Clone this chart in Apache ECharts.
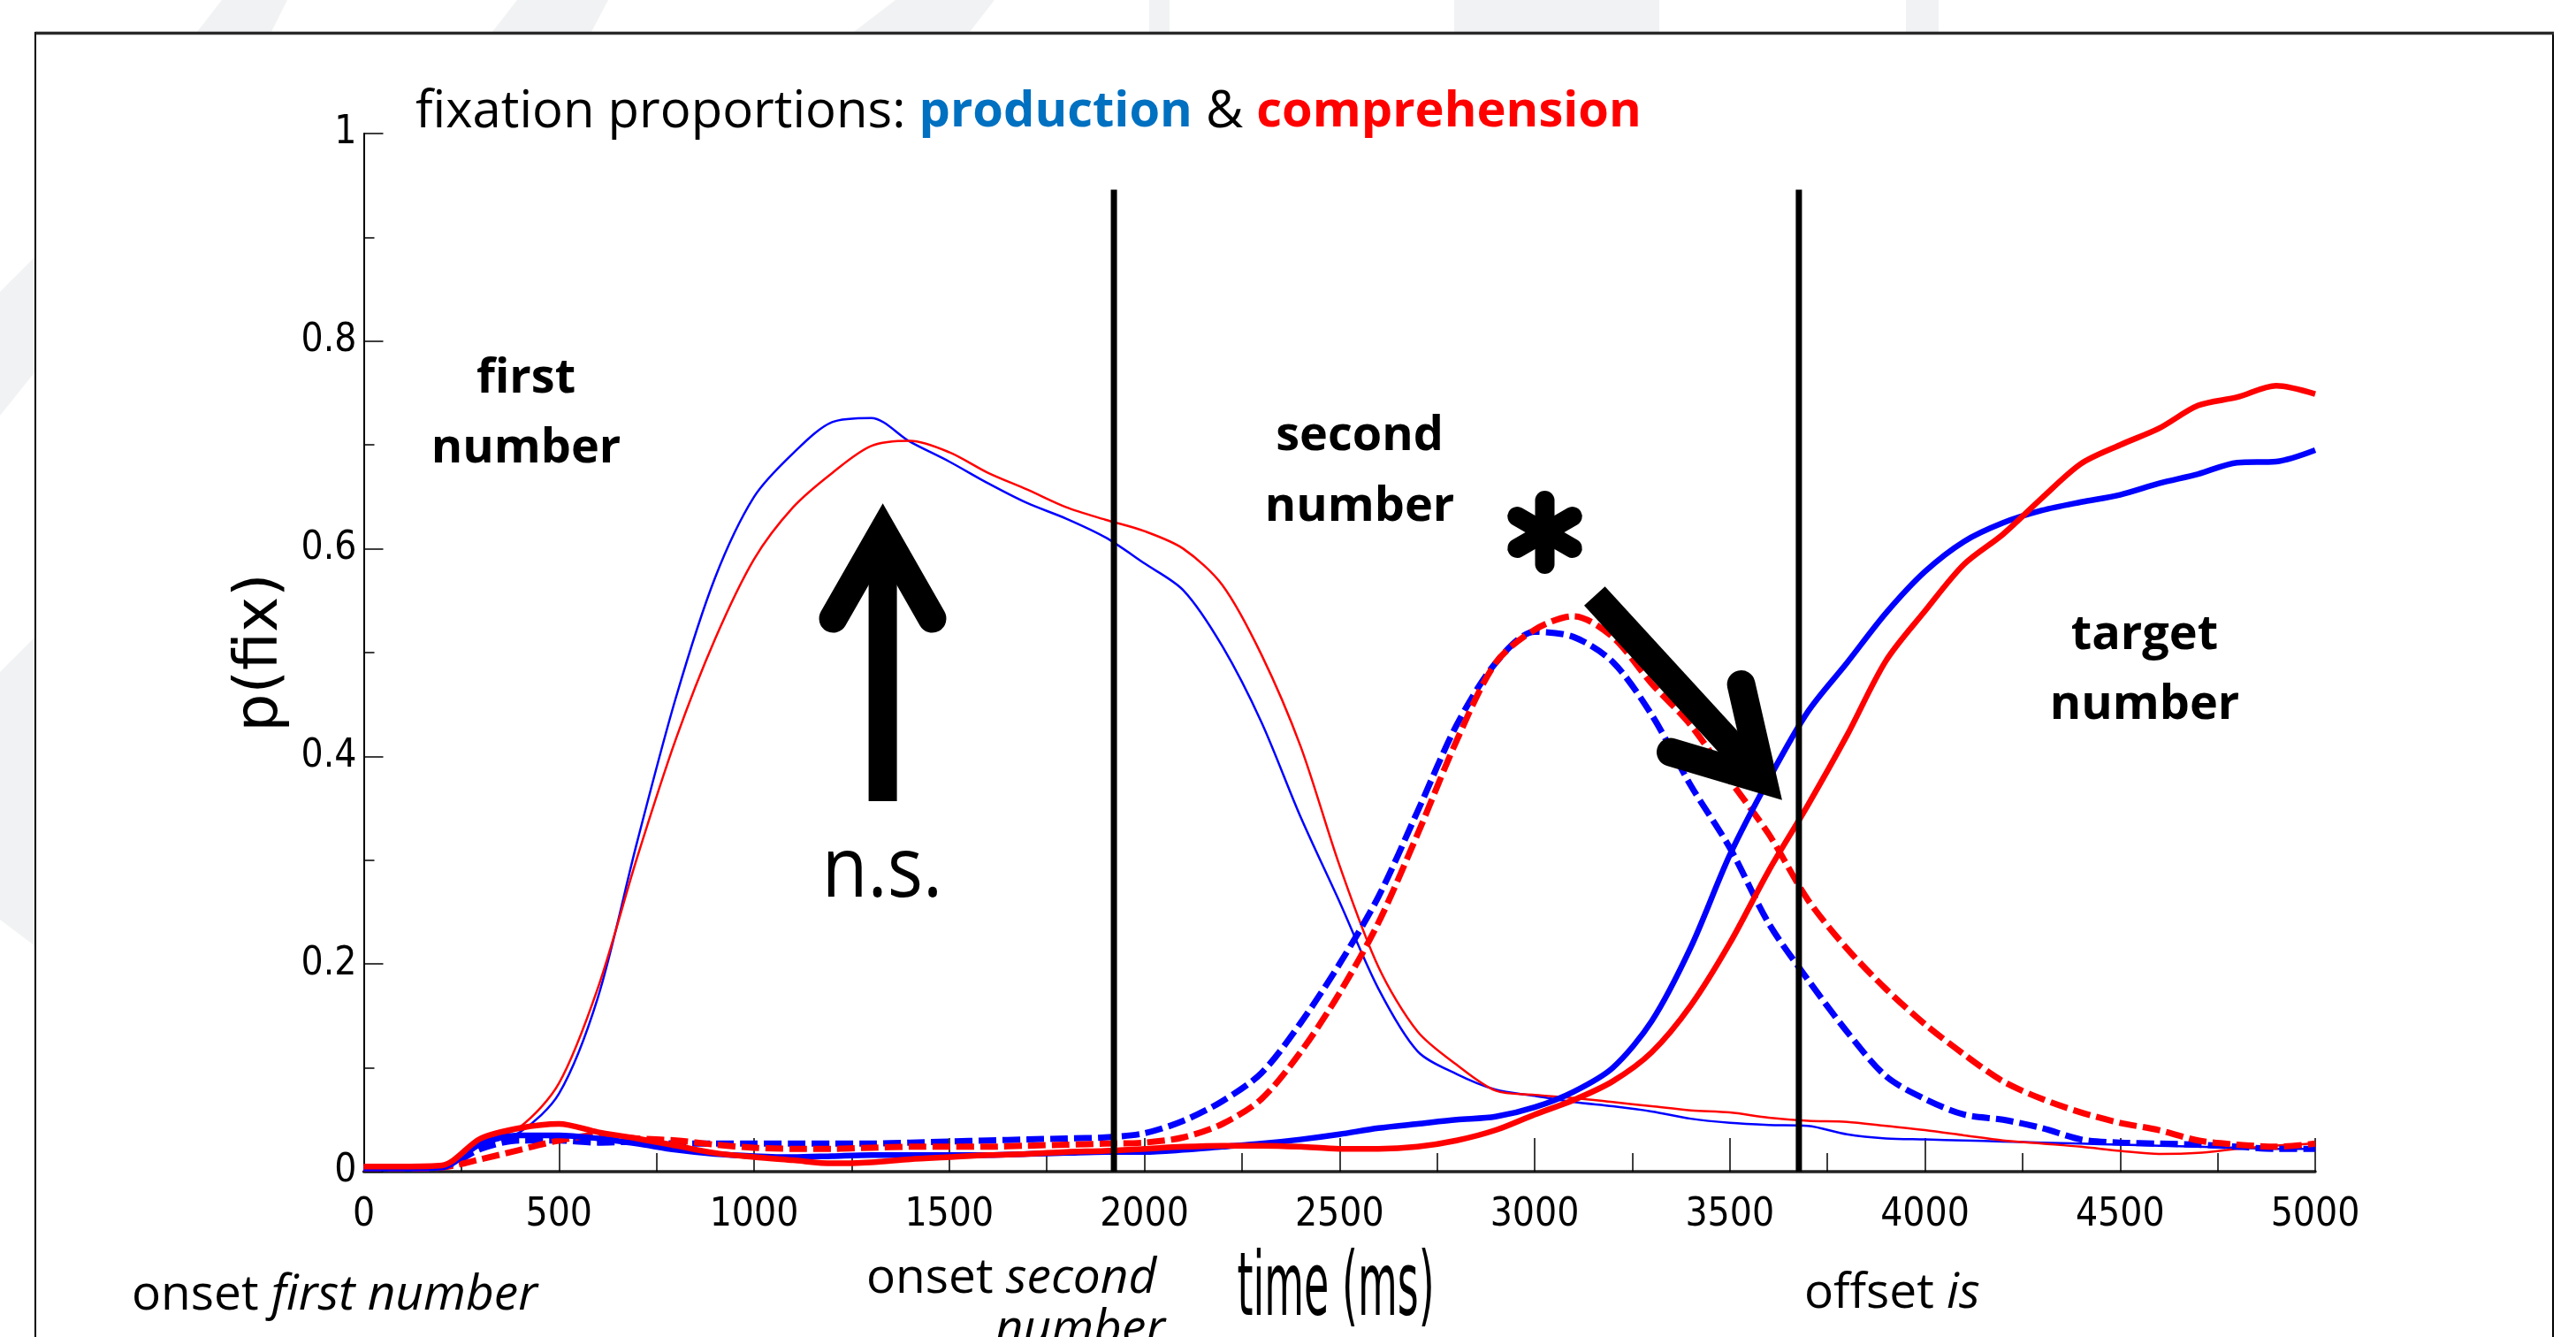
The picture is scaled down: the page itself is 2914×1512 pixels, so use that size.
<!DOCTYPE html>
<html>
<head>
<meta charset="utf-8">
<script src="https://cdn.jsdelivr.net/npm/echarts@6/dist/echarts.min.js"></script>
<style>
html,body{margin:0;padding:0;background:#fff;}
#main{width:2914px;height:1512px;}
</style>
</head>
<body>
<div id="main"></div>
<script>
// ---------------- data ----------------
const timeMs = [0,100,200,300,400,500,600,700,800,900,1000,1100,1200,1300,1400,1500,1600,1700,1800,1900,
  2000,2100,2200,2300,2400,2500,2600,2700,2800,2900,3000,3100,3200,3300,3400,3500,3600,3700,3800,3900,
  4000,4100,4200,4300,4400,4500,4600,4700,4800,4900,5000];

// production (blue)
const prodFirst = [0.003,0.003,0.003,0.025,0.038,0.075,0.168,0.317,0.457,0.572,0.650,0.692,0.722,0.726,0.703,0.684,0.663,0.644,0.629,0.611,
  0.586,0.560,0.506,0.433,0.342,0.260,0.176,0.116,0.094,0.079,0.073,0.067,0.063,0.058,0.051,0.047,0.045,0.044,0.036,0.032,
  0.031,0.030,0.029,0.028,0.027,0.026,0.025,0.024,0.023,0.022,0.022];
const prodSecond = [0.003,0.003,0.004,0.022,0.030,0.030,0.028,0.029,0.027,0.027,0.027,0.027,0.027,0.027,0.028,0.029,0.030,0.031,0.032,0.033,
  0.037,0.049,0.068,0.095,0.143,0.200,0.265,0.347,0.430,0.490,0.520,0.515,0.491,0.440,0.372,0.312,0.239,0.185,0.135,0.092,
  0.070,0.055,0.050,0.042,0.031,0.028,0.027,0.026,0.024,0.022,0.022];
const prodTarget = [0.003,0.003,0.004,0.027,0.035,0.035,0.032,0.027,0.021,0.017,0.015,0.014,0.015,0.016,0.016,0.016,0.016,0.017,0.018,0.019,
  0.019,0.021,0.024,0.027,0.031,0.036,0.042,0.046,0.050,0.053,0.062,0.077,0.100,0.145,0.216,0.305,0.378,0.443,0.490,0.538,
  0.578,0.607,0.625,0.637,0.645,0.652,0.663,0.672,0.683,0.684,0.695];

// comprehension (red)
const compFirst = [0.005,0.005,0.006,0.028,0.043,0.085,0.177,0.302,0.417,0.513,0.590,0.640,0.673,0.699,0.704,0.693,0.673,0.657,0.640,0.628,
  0.617,0.600,0.565,0.498,0.410,0.295,0.197,0.135,0.103,0.078,0.074,0.071,0.067,0.063,0.059,0.057,0.052,0.049,0.048,0.044,
  0.040,0.035,0.030,0.027,0.024,0.020,0.017,0.018,0.022,0.025,0.027];
const compSecond = [0.003,0.003,0.004,0.012,0.021,0.030,0.035,0.032,0.030,0.026,0.023,0.022,0.022,0.023,0.024,0.024,0.024,0.025,0.026,0.027,
  0.028,0.033,0.046,0.070,0.115,0.172,0.240,0.325,0.415,0.490,0.522,0.535,0.515,0.470,0.430,0.377,0.325,0.262,0.215,0.176,
  0.142,0.113,0.087,0.070,0.057,0.047,0.040,0.030,0.026,0.024,0.027];
const compTarget = [0.005,0.005,0.006,0.032,0.042,0.046,0.038,0.032,0.025,0.018,0.014,0.011,0.008,0.009,0.012,0.014,0.016,0.017,0.019,0.020,
  0.022,0.024,0.025,0.025,0.024,0.022,0.022,0.024,0.030,0.040,0.055,0.069,0.087,0.115,0.160,0.220,0.290,0.353,0.420,0.492,
  0.540,0.585,0.614,0.649,0.682,0.700,0.716,0.738,0.746,0.757,0.749];

// event markers (ms) and their drawn height
const markerTimes = [1922, 3677];
const markerTop = 0.946;

// tick labels
const xTickLabels = ['0','500','1000','1500','2000','2500','3000','3500','4000','4500','5000'];
const yTickLabels = ['0','0.2','0.4','0.6','0.8','1'];

// ---------------- chart ----------------
const BLUE = '#0000ff', RED = '#ff0000';
const pair = arr => timeMs.map((t, i) => [t, arr[i]]);
const tickFont = "'DejaVu Sans Condensed','Liberation Sans Narrow','DejaVu Sans',sans-serif";
const FONT = "'Open Sans', sans-serif";

function lineSeries(name, arr, color, width, dashed) {
  return {
    name, type: 'line', data: pair(arr), showSymbol: false, silent: true,
    smooth: 0.3,
    lineStyle: { color, width, type: dashed ? [20, 7] : 'solid', cap: 'butt', join: 'round' },
    z: 3
  };
}

const series = [
  lineSeries('production first', prodFirst, BLUE, 2.5, false),
  lineSeries('comprehension first', compFirst, RED, 2.5, false),
  lineSeries('production second', prodSecond, BLUE, 7, true),
  lineSeries('comprehension second', compSecond, RED, 7, true),
  lineSeries('production target', prodTarget, BLUE, 6.5, false),
  lineSeries('comprehension target', compTarget, RED, 6.5, false)
];
markerTimes.forEach((t, i) => {
  series.push({
    name: 'marker' + i, type: 'line', data: [[t, 0], [t, markerTop]], showSymbol: false, silent: true,
    lineStyle: { color: '#000', width: 7 }, z: 4
  });
});

const bgGray = '#f1f2f3';
const txt = (x, y, text, font, align) => ({
  type: 'text', x, y, silent: true, z: 10,
  style: { text, font, fill: '#000', textAlign: align || 'center', textVerticalAlign: 'middle' }
});
const richIt = (x, y, plain, ital) => ({
  type: 'text', x, y, silent: true, z: 10,
  style: { text: '{n|' + plain + '}{i|' + ital + '}', textAlign: 'left', textVerticalAlign: 'middle',
    rich: { n: { fontSize: 55, fontFamily: FONT, fill: '#000' },
            i: { fontSize: 55, fontFamily: FONT, fontStyle: 'italic', fill: '#000' } } }
});

const graphics = [
  // faint slide background outside the frame
  { type: 'polygon', shape: { points: [[251,0],[325,0],[307,36],[223,36]] }, style: { fill: bgGray }, silent: true, z: 0 },
  { type: 'polygon', shape: { points: [[585,0],[688,0],[669,36],[557,36]] }, style: { fill: bgGray }, silent: true, z: 0 },
  { type: 'polygon', shape: { points: [[1013,0],[1125,0],[1097,36],[966,36]] }, style: { fill: bgGray }, silent: true, z: 0 },
  { type: 'polygon', shape: { points: [[1300,0],[1323,0],[1323,36],[1300,36]] }, style: { fill: bgGray }, silent: true, z: 0 },
  { type: 'polygon', shape: { points: [[1645,0],[1877,0],[1877,36],[1645,36]] }, style: { fill: bgGray }, silent: true, z: 0 },
  { type: 'polygon', shape: { points: [[2156,0],[2193,0],[2193,36],[2156,36]] }, style: { fill: bgGray }, silent: true, z: 0 },
  { type: 'polygon', shape: { points: [[0,330],[40,290],[40,420],[0,470]] }, style: { fill: bgGray }, silent: true, z: 0 },
  { type: 'polygon', shape: { points: [[0,760],[40,720],[40,1070],[0,1040]] }, style: { fill: bgGray }, silent: true, z: 0 },
  // frame
  { type: 'rect', shape: { x: 40, y: 37, width: 2848, height: 1520 }, style: { fill: null, stroke: '#000', lineWidth: 2 }, silent: true, z: 1 },
  { type: 'line', shape: { x1: 40, y1: 37.5, x2: 2889, y2: 37.5 }, style: { stroke: '#2a2a2a', lineWidth: 3.5 }, silent: true, z: 1 },

  // title
  { type: 'text', x: 470, y: 127, silent: true, z: 10,
    style: {
      text: '{a|fixation proportions: }{b|production}{a| & }{c|comprehension}',
      textAlign: 'left', textVerticalAlign: 'middle',
      rich: {
        a: { fontSize: 58, fontFamily: FONT, fill: '#000' },
        b: { fontSize: 56, fontFamily: FONT, fontWeight: 'bold', fill: '#0070c0' },
        c: { fontSize: 56, fontFamily: FONT, fontWeight: 'bold', fill: '#ff0000' }
      }
    } },

  // region labels
  txt(595, 429, 'first', 'bold 54px ' + FONT),
  txt(595, 508, 'number', 'bold 54px ' + FONT),
  txt(1538, 494, 'second', 'bold 54px ' + FONT),
  txt(1538, 574, 'number', 'bold 54px ' + FONT),
  txt(2426, 719, 'target', 'bold 54px ' + FONT),
  txt(2426, 798, 'number', 'bold 54px ' + FONT),

  // n.s. + up arrow
  Object.assign(txt(998, 987, 'n.s.', '96px ' + FONT), { scaleX: 0.88 }),
  { type: 'line', shape: { x1: 998.6, y1: 906, x2: 998.6, y2: 612 }, style: { stroke: '#000', lineWidth: 32, lineCap: 'butt' }, silent: true, z: 10 },
  { type: 'polyline', shape: { points: [[942.5,699.5],[998.6,601.5],[1054.5,699.5]] }, style: { stroke: '#000', fill: null, lineWidth: 32, lineCap: 'round', lineJoin: 'miter', miterLimit: 10 }, silent: true, z: 10 },

  // asterisk + diagonal arrow
  { type: 'line', shape: { x1: 1747.5, y1: 566, x2: 1747.5, y2: 638 }, style: { stroke: '#000', lineWidth: 22, lineCap: 'round' }, silent: true, z: 10 },
  { type: 'line', shape: { x1: 1716.3, y1: 620, x2: 1778.7, y2: 584 }, style: { stroke: '#000', lineWidth: 22, lineCap: 'round' }, silent: true, z: 10 },
  { type: 'line', shape: { x1: 1716.3, y1: 584, x2: 1778.7, y2: 620 }, style: { stroke: '#000', lineWidth: 22, lineCap: 'round' }, silent: true, z: 10 },
  { type: 'line', shape: { x1: 1803.8, y1: 674, x2: 1994.2, y2: 881.6 }, style: { stroke: '#000', lineWidth: 32, lineCap: 'butt' }, silent: true, z: 10 },
  { type: 'polyline', shape: { points: [[1969.6,774],[1994.2,881.6],[1890,850.6]] }, style: { stroke: '#000', fill: null, lineWidth: 32, lineCap: 'round', lineJoin: 'miter', miterLimit: 10 }, silent: true, z: 10 },

  // texts under the axis
  richIt(149, 1465, 'onset ', 'first number'),
  richIt(980, 1446, 'onset ', 'second'),
  txt(1318, 1504, 'number', 'italic 55px ' + FONT, 'right'),
  richIt(2041, 1463, 'offset ', 'is'),
  // x-axis title (condensed)
  Object.assign(txt(1511, 1461, 'time (ms)', "100px 'DejaVu Sans', sans-serif"), { scaleX: 0.46 })
];

const option = {
  animation: false,
  backgroundColor: '#ffffff',
  grid: { left: 411.5, right: 295, top: 151, bottom: 187, containLabel: false },
  xAxis: {
    type: 'value', min: 0, max: 5000, interval: 500,
    axisLine: { show: true, lineStyle: { color: '#222', width: 3.5 } },
    axisTick: { show: true, inside: true, length: 38, lineStyle: { color: '#000', width: 1.5 } },
    minorTick: { show: true, splitNumber: 2, length: 21, lineStyle: { color: '#000', width: 1.5 } },
    splitLine: { show: false },
    axisLabel: { show: true, margin: 28, fontSize: 44, fontFamily: tickFont, color: '#000',
      formatter: v => xTickLabels[Math.round(v / 500)] }
  },
  yAxis: {
    type: 'value', min: 0, max: 1, interval: 0.2,
    name: 'p(fix)', nameLocation: 'middle', nameRotate: 90, nameGap: 58,
    nameTextStyle: { fontSize: 68, fontFamily: "'DejaVu Sans', sans-serif", color: '#000' },
    axisLine: { show: true, lineStyle: { color: '#000', width: 2 } },
    axisTick: { show: true, inside: true, length: 22, lineStyle: { color: '#000', width: 1.5 } },
    minorTick: { show: true, splitNumber: 2, length: 12, lineStyle: { color: '#000', width: 1.5 } },
    splitLine: { show: false },
    axisLabel: { show: true, margin: 8, fontSize: 44, fontFamily: tickFont, color: '#000',
      formatter: v => yTickLabels[Math.round(v / 0.2)] }
  },
  series,
  graphic: graphics
};

const chart = echarts.init(document.getElementById('main'), null, { renderer: 'canvas' });
chart.setOption(option);
</script>
</body>
</html>
